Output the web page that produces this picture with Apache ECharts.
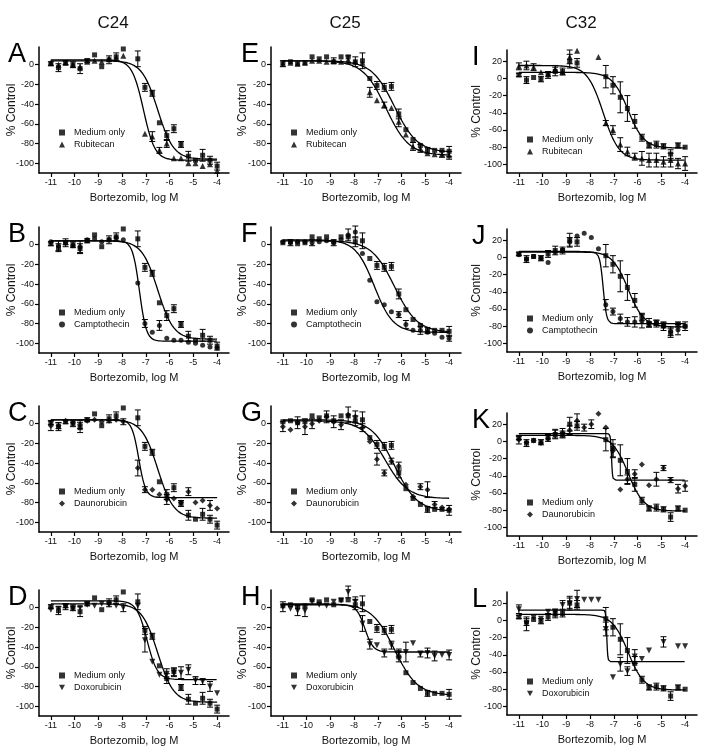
<!DOCTYPE html>
<html><head><meta charset="utf-8">
<script src="https://cdn.jsdelivr.net/npm/echarts@6/dist/echarts.min.js"></script>
<style>html,body{margin:0;padding:0;background:#fff}#c{width:710px;height:756px}</style>
</head><body><div id="c"></div>
<script>
// ---- data ----
const xs = [-11.0, -10.68, -10.38, -10.07, -9.77, -9.47, -9.16, -8.86, -8.55, -8.25, -7.95, -7.65, -7.34, -7.04, -6.73, -6.43, -6.12, -5.82, -5.52, -5.21, -4.91, -4.61, -4.30, -4.0];
const xTicks = [-11, -10, -9, -8, -7, -6, -5, -4];
const yTicksA = [0, -20, -40, -60, -80, -100];
const yTicksC32 = [20, 0, -20, -40, -60, -80, -100];
const colTitles = ['C24', 'C25', 'C32'];
const drugNames = ['Rubitecan', 'Camptothecin', 'Daunorubicin', 'Doxorubicin'];
const panelLetters = [['A','B','C','D'], ['E','F','G','H'], ['I','J','K','L']];

// Medium only (shared within each column)
const c24MedY = [1, -3, 2, 0, -4, 4, 10, -2, 5, 8, 16, null, 6, -23, -29, -59, -72, -65, -81, -93, -97, -92, -97, -103];
const c24MedE = [2, 4, 2, 3, 5, 2, 0, 0, 4, 4, 0, 0, 8, 4, 3, 0, 5, 4, 3, 5, 0, 6, 4, 4];
const c25MedY = [2, 3, 1, 2, 8, 6, 8, 3, 8, 8, 3, 4, -14, -21, -23, -22, -50, -66, -76, -82, -87, -87, -87, -88];
const c25MedE = [0, 0, 0, 0, 0, 0, 0, 0, 0, 0, 5, 8, 0, 4, 4, 4, 5, 0, 0, 0, 3, 0, 0, 5];
const c32MedY = [4, -2, 1, -1, 4, 8, 8, 20, 18, null, null, null, 2, -8, -22, -35, -50, -69, -78, -77, -79, -88, -78, -80];
const c32MedE = [2, 4, 0, 3, 4, 5, 4, 8, 5, 0, 0, 0, 13, 10, 18, 15, 8, 4, 3, 4, 3, 5, 3, 0];

// drug combinations
const aDrugY = [2, 0, 2, 0, -2, 3, 4, 3, 6, 7, 9, null, null, -70, -73, -87, -80, -95, -95, -100, -100, -103, -101, -108];
const aDrugE = [0, 0, 0, 0, 0, 0, 0, 0, 0, 0, 0, 0, 0, 0, 5, 3, 4, 0, 0, 0, 0, 0, 0, 0];
const bDrugY = [3, -1, 2, -1, -2, 5, 6, 3, 5, 7, 5, null, -39, -80, -89, -82, -95, -97, -97, -99, -100, -102, -104, -105];
const bDrugE = [0, 5, 4, 0, 6, 0, 0, 0, 0, 0, 0, 0, 0, 4, 0, 5, 0, 0, 0, 0, 0, 0, 0, 0];
const cDrugY = [-2, -2, 3, 1, -1, 3, 4, 2, 3, 4, 2, null, -45, -67, -67, -72, -77, -76, -80, -69, -80, -78, -83, -86];
const cDrugE = [5, 3, 0, 0, 4, 0, 0, 0, 0, 0, 3, 0, 8, 3, 0, 0, 5, 0, 0, 4, 0, 0, 5, 0];
const dDrugY = [-2, -1, 1, -1, 0, 3, 2, 4, 3, 2, 0, null, 2, -33, -55, -68, -67, -66, -66, -63, -74, -75, -80, -87];
const dDrugE = [0, 0, 3, 0, 0, 0, 0, 0, 0, 0, 4, 0, 0, 12, 0, 0, 5, 4, 6, 5, 4, 3, 5, 0];
const eDrugY = [1, 2, 1, 2, 4, 4, 3, 4, 3, 5, 3, 2, -28, -36, -41, -44, -58, -71, -83, -85, -90, -91, -91, -92];
const eDrugE = [3, 0, 0, 0, 0, 0, 0, 3, 0, 4, 0, 0, 5, 0, 3, 0, 5, 0, 4, 4, 0, 0, 3, 4];
const fDrugY = [3, 2, 3, 3, 2, 3, 4, 2, 5, 10, 13, -9, -36, -58, -61, -68, -71, -81, -87, -87, -89, -90, -94, -95];
const fDrugE = [0, 3, 0, 0, 3, 0, 0, 3, 0, 6, 6, 0, 0, 0, 0, 0, 3, 4, 0, 4, 0, 0, 0, 3];
const gDrugY = [-3, -6, 1, -3, 0, 3, 7, 2, -1, 9, 7, -4, -18, -36, -50, -38, -43, -62, -74, -64, -67, -82, -85, -87];
const gDrugE = [5, 0, 6, 8, 5, 0, 6, 6, 5, 8, 6, 4, 0, 6, 3, 3, 4, 0, 0, 3, 8, 3, 0, 0];
const hDrugY = [1, -1, -3, -3, 6, 3, 2, 6, 7, 16, 6, -16, -37, -38, -46, -38, -46, -45, -36, -47, -46, -49, -48, -48];
const hDrugE = [5, 0, 5, 6, 0, 0, 0, 0, 0, 6, 5, 8, 5, 0, 4, 4, 4, 10, 0, 3, 5, 5, 0, 5];
const iDrugY = [14, 15, 13, 7, 5, 11, 7, 25, 32, null, null, 25, -52, -60, -77, -85, -91, -93, -95, -95, -97, -95, -99, -99];
const iDrugE = [4, 5, 4, 0, 0, 4, 0, 8, 0, 0, 0, 0, 3, 5, 8, 5, 4, 8, 8, 8, 6, 8, 6, 8];
const jDrugY = [3, -2, 1, -1, -6, 6, 9, 18, 25, 28, 23, 10, -55, -63, -71, -75, -75, -74, -76, -76, -80, -86, -84, -80];
const jDrugE = [0, 0, 0, 0, 0, 0, 0, 5, 0, 0, 0, 0, 6, 4, 5, 5, 6, 8, 5, 3, 5, 5, 6, 5];
const kDrugY = [2, -1, 1, -2, 3, 9, 10, 13, 24, 16, 20, 32, 16, -11, -56, -44, -38, -27, -51, -44, -31, -45, -55, -52];
const kDrugE = [5, 0, 0, 0, 0, 5, 5, 5, 8, 4, 5, 0, 0, 8, 0, 5, 5, 0, 0, 8, 3, 3, 5, 6];
const lDrugY = [13, -4, 3, 2, 10, 9, 18, 20, 25, 24, 24, 24, -10, -66, -51, -59, -42, -45, -35, null, -25, null, -30, -30];
const lDrugE = [5, 8, 0, 0, 0, 4, 5, 6, 10, 0, 0, 0, 8, 0, 8, 5, 8, 0, 0, 0, 6, 0, 0, 0];

// fitted 4-parameter curves: [top, bottom, logIC50, hill]
const c24MedFit = [4, -96, -6.5, 1.3];
const c25MedFit = [4, -89, -6.3, 0.9];
const c32MedFit = [7, -81, -6.4, 1.3];
const aFit = [5, -97, -7.1, 1.8];
const bFit = [4, -98, -7.27, 3];
const cFit = [4, -75, -7.3, 3];
const dFit = [7, -73, -6.95, 2];
const eFit = [4, -92, -6.66, 0.9];
const fFit = [5, -89, -7.15, 1.1];
const gFit = [3, -76, -6.7, 0.9];
const hFit = [3, -45, -7.55, 2.5];
const iFit = [15, -95, -7.45, 1.3];
const jFit = [6, -77, -7.45, 6];
const kFit = [9, -45, -7.1, 20];
const lFit = [12, -48, -7.3, 20];

// ---- layout / style ----
const colLeft = [39, 271, 507];
const gridW = 190;
const rowTop = [[47, 227, 406, 590], [47, 227, 406, 590], [50, 229, 413, 592]];
const gridH = [126, 126, 123];
const yMax = [18, 18, 33];
const yNameGap = [21, 22, 24];
const downTri = 'path://M0,0L10,0L5,9Z';
const drugSymbol = ['triangle', 'circle', 'diamond', downTri];
const drugSize = [6, 5, 6, 6];
const letterDx = [-31, -30, -35];
const FONT = '"Liberation Sans", Arial, sans-serif';

const medYs = [c24MedY, c25MedY, c32MedY];
const medEs = [c24MedE, c25MedE, c32MedE];
const medFits = [c24MedFit, c25MedFit, c32MedFit];
const drugYs = [[aDrugY, bDrugY, cDrugY, dDrugY], [eDrugY, fDrugY, gDrugY, hDrugY], [iDrugY, jDrugY, kDrugY, lDrugY]];
const drugEs = [[aDrugE, bDrugE, cDrugE, dDrugE], [eDrugE, fDrugE, gDrugE, hDrugE], [iDrugE, jDrugE, kDrugE, lDrugE]];
const drugFits = [[aFit, bFit, cFit, dFit], [eFit, fFit, gFit, hFit], [iFit, jFit, kFit, lFit]];

function curve(p) {
  const pts = [];
  for (let i = 0; i <= 700; i++) {
    const x = -11 + i * 0.01;
    pts.push([x, p[1] + (p[0] - p[1]) / (1 + Math.pow(10, (x - p[2]) * p[3]))]);
  }
  return pts;
}
function pts(y) { return xs.map((x, i) => [x, y[i]]).filter(d => d[1] != null); }
function errPts(y, e) { return xs.map((x, i) => [x, y[i], e[i]]).filter(d => d[1] != null && d[2] > 0); }
function errRender(params, api) {
  const x = api.value(0), y = api.value(1), e = api.value(2);
  const t = api.coord([x, y + e]), b = api.coord([x, y - e]);
  const w = 3, st = { stroke: '#000', lineWidth: 1 };
  return { type: 'group', children: [
    { type: 'line', shape: { x1: t[0], y1: t[1], x2: b[0], y2: b[1] }, style: st },
    { type: 'line', shape: { x1: t[0] - w, y1: t[1], x2: t[0] + w, y2: t[1] }, style: st },
    { type: 'line', shape: { x1: b[0] - w, y1: b[1], x2: b[0] + w, y2: b[1] }, style: st }
  ]};
}

const grid = [], xAxis = [], yAxis = [], series = [], legend = [], graphic = [];
let gi = 0;
for (let c = 0; c < 3; c++) {
  graphic.push({ type: 'text', x: colLeft[c] + 74, y: 15, style: { text: colTitles[c], font: '17px ' + FONT, fill: '#111', textAlign: 'center' } });
  for (let r = 0; r < 4; r++) {
    const top = rowTop[c][r];
    grid.push({ left: colLeft[c], top: top, width: gridW, height: gridH[c] });
    const axLine = { lineStyle: { color: '#000', width: 1.5 }, onZero: false };
    xAxis.push({ gridIndex: gi, type: 'value', min: -11.5, max: -3.5,
      axisLine: axLine, splitLine: { show: false },
      axisTick: { customValues: xTicks, length: 4, lineStyle: { color: '#000', width: 1.2 } },
      axisLabel: { customValues: xTicks, fontSize: 9, color: '#111', margin: 5, fontFamily: FONT },
      name: 'Bortezomib, log M', nameLocation: 'middle', nameGap: 19, nameMoveOverlap: false,
      nameTextStyle: { fontSize: 11, color: '#111', fontFamily: FONT } });
    const yt = c === 2 ? yTicksC32 : yTicksA;
    yAxis.push({ gridIndex: gi, type: 'value', min: -110, max: yMax[c],
      axisLine: axLine, splitLine: { show: false },
      axisTick: { customValues: yt, length: 4, lineStyle: { color: '#000', width: 1.2 } },
      axisLabel: { customValues: yt, fontSize: 9, color: '#111', margin: 5, fontFamily: FONT },
      name: '% Control', nameLocation: 'middle', nameGap: yNameGap[c], nameMoveOverlap: false,
      nameTextStyle: { fontSize: 12, color: '#111', fontFamily: FONT } });
    const drug = drugNames[r];
    const lineStyle = { color: '#000', width: 1.3 };
    series.push({ type: 'line', name: 'fitM' + gi, xAxisIndex: gi, yAxisIndex: gi, data: curve(medFits[c]), showSymbol: false, lineStyle: lineStyle, silent: true, z: 1 });
    series.push({ type: 'line', name: 'fitD' + gi, xAxisIndex: gi, yAxisIndex: gi, data: curve(drugFits[c][r]), showSymbol: false, lineStyle: lineStyle, silent: true, z: 1 });
    series.push({ type: 'custom', name: 'errM' + gi, xAxisIndex: gi, yAxisIndex: gi, renderItem: errRender, encode: { x: 0, y: 1 }, data: errPts(medYs[c], medEs[c]), z: 2 });
    series.push({ type: 'custom', name: 'errD' + gi, xAxisIndex: gi, yAxisIndex: gi, renderItem: errRender, encode: { x: 0, y: 1 }, data: errPts(drugYs[c][r], drugEs[c][r]), z: 2 });
    series.push({ type: 'scatter', name: 'Medium only', xAxisIndex: gi, yAxisIndex: gi, data: pts(medYs[c]), symbol: 'rect', symbolSize: 5, itemStyle: { color: '#000' }, z: 3 });
    series.push({ type: 'scatter', name: drug, xAxisIndex: gi, yAxisIndex: gi, data: pts(drugYs[c][r]), symbol: drugSymbol[r], symbolSize: drugSize[r], itemStyle: { color: '#000' }, z: 3 });
    legend.push({ orient: 'vertical', left: colLeft[c] + 15, top: top + (c === 2 ? 80 : 76), itemWidth: 6, itemHeight: 6, itemGap: 3,
      selectedMode: false, data: ['Medium only', drug],
      textStyle: { fontSize: 9, color: '#111', fontFamily: FONT, padding: [0, 0, 0, 4] } });
    graphic.push({ type: 'text', x: colLeft[c] + letterDx[c], y: top - 6, style: { text: panelLetters[c][r], font: '27px ' + FONT, fill: '#000' } });
    gi++;
  }
}

const chart = echarts.init(document.getElementById('c'), null, { renderer: 'canvas' });
chart.setOption({ animation: false, backgroundColor: '#fff', grid, xAxis, yAxis, series, legend, graphic });
</script></body></html>
